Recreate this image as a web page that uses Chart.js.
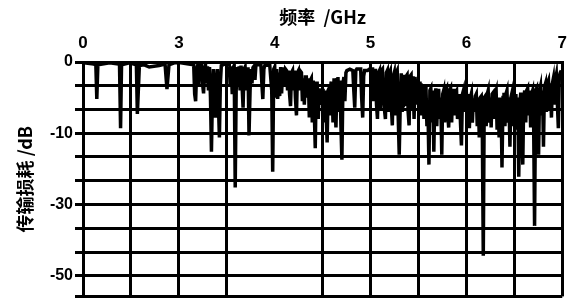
<!DOCTYPE html>
<html>
<head>
<meta charset="utf-8">
<script src="https://cdn.jsdelivr.net/npm/chart.js@4"></script>
<style>
    html, body { margin: 0; padding: 0; background: #fff; }
    #wrap { width: 575px; height: 308px; }
</style>
</head>
<body>
<div id="wrap"><canvas id="lossChart"></canvas></div>
<script>
// frequency (GHz) and transmission loss (dB), row by row
var freqGHz = [
    2.010, 2.113, 2.134, 2.144, 2.155, 2.278, 2.371, 2.381, 2.392, 2.402,
    2.485, 2.557, 2.567, 2.588, 2.639, 2.691, 2.794, 2.856, 2.876, 2.897, 2.959,

    3.021, 3.103, 3.155, 3.165, 3.175, 3.186, 3.196, 3.206, 3.216, 3.227,
    3.237, 3.247, 3.258, 3.268, 3.278, 3.289, 3.299, 3.309, 3.320, 3.330,
    3.340, 3.351, 3.361, 3.371, 3.382, 3.392, 3.402, 3.412, 3.423, 3.433,
    3.443, 3.474,

    3.526, 3.536, 3.546, 3.557, 3.567, 3.577, 3.588, 3.598, 3.608, 3.618,
    3.629, 3.639, 3.649, 3.660, 3.670, 3.680, 3.691, 3.701, 3.711, 3.722,
    3.732, 3.743, 3.753, 3.763, 3.773, 3.784, 3.794, 3.804, 3.856, 3.866,
    3.876, 3.887, 3.897, 3.948, 3.969, 3.979, 3.990,

    4.000, 4.010, 4.020, 4.031, 4.041, 4.052, 4.062, 4.072, 4.083, 4.093,
    4.103, 4.113, 4.124, 4.134, 4.144, 4.155, 4.165, 4.175, 4.186, 4.196,
    4.206, 4.216, 4.227, 4.237, 4.248, 4.258, 4.268, 4.279, 4.289, 4.299,
    4.309, 4.320, 4.330, 4.340, 4.351, 4.361, 4.371, 4.382, 4.392, 4.402,
    4.412, 4.423, 4.433, 4.443, 4.454, 4.464, 4.474, 4.485,

    4.505, 4.515, 4.526, 4.536, 4.547, 4.557, 4.567, 4.577, 4.588, 4.598,
    4.608, 4.619, 4.629, 4.639, 4.650, 4.660, 4.670, 4.681, 4.691, 4.701,
    4.712, 4.722, 4.732, 4.743, 4.753, 4.784, 4.815, 4.825, 4.835, 4.846,
    4.856, 4.897, 4.907, 4.918, 4.928, 4.938, 4.969, 4.990,

    5.021, 5.031, 5.041, 5.052, 5.062, 5.072, 5.083, 5.093, 5.103, 5.113,
    5.124, 5.134, 5.144, 5.155, 5.165, 5.175, 5.186, 5.196, 5.206, 5.216,
    5.227, 5.237, 5.247, 5.258, 5.268, 5.278, 5.289, 5.299, 5.309, 5.320,
    5.330, 5.340, 5.351, 5.361, 5.371, 5.381, 5.392, 5.402, 5.412, 5.423,
    5.433, 5.443, 5.454, 5.464, 5.474, 5.485, 5.495,

    5.516, 5.526, 5.536, 5.547, 5.557, 5.567, 5.578, 5.588, 5.598, 5.609,
    5.619, 5.629, 5.640, 5.650, 5.660, 5.670, 5.681, 5.691, 5.701, 5.711,
    5.722, 5.732, 5.743, 5.753, 5.763, 5.773, 5.784, 5.794, 5.804, 5.815,
    5.825, 5.835, 5.846, 5.856, 5.866, 5.876, 5.887, 5.897, 5.907, 5.918,
    5.928, 5.938, 5.948, 5.959, 5.969, 5.979, 5.990,

    6.000, 6.010, 6.021, 6.031, 6.041, 6.052, 6.062, 6.072, 6.082, 6.093,
    6.103, 6.113, 6.124, 6.134, 6.144, 6.155, 6.165, 6.176, 6.186, 6.196,
    6.206, 6.217, 6.227, 6.237, 6.248, 6.258, 6.268, 6.279, 6.289, 6.299,
    6.310, 6.320, 6.330, 6.341, 6.351, 6.361, 6.371, 6.382, 6.392, 6.402,
    6.412, 6.423, 6.433, 6.443, 6.454, 6.464, 6.474, 6.485, 6.495,

    6.505, 6.516, 6.526, 6.536, 6.546, 6.557, 6.567, 6.577, 6.588, 6.598,
    6.608, 6.619, 6.629, 6.639, 6.649, 6.660, 6.670, 6.680, 6.691, 6.701,
    6.711, 6.722, 6.732, 6.742, 6.753, 6.763, 6.773, 6.784, 6.794, 6.804,
    6.814, 6.825, 6.835, 6.845, 6.856, 6.866, 6.876, 6.887, 6.897, 6.907,
    6.918, 6.928, 6.938, 6.948, 6.959, 6.969, 6.979, 6.990
];
var lossDb = [
    -0.1, -0.3, -0.4, -5.2, -0.4, -0.1, -0.3, -0.4, -9.3, -0.4,
    -0.1, -0.4, -7.3, -0.5, -0.4, -0.7, -0.5, -0.3, -3.8, -0.4, -0.1,

    -0.1, -0.3, -0.4, -4.5, -5.5, -1.0, -0.5, -3.5, -0.6, -1.0,
    -0.4, -3.0, -4.4, -1.0, -0.4, -3.0, -0.6, -4.0, -0.7, -5.0,
    -12.6, -4.0, -1.0, -5.0, -7.8, -3.0, -1.0, -5.5, -10.6, -3.0,
    -0.5, -0.3,

    -0.4, -3.5, -0.6, -4.5, -0.8, -0.5, -17.6, -4.0, -0.7, -3.0,
    -0.6, -4.0, -0.5, -3.5, -6.4, -1.0, -0.7, -4.0, -1.0, -1.0,
    -10.3, -4.0, -1.0, -3.0, -0.8, -0.6, -2.5, -0.4, -0.4, -3.0,
    -5.2, -1.0, -0.5, -0.4, -4.0, -15.4, -1.0,

    -0.7, -5.0, -1.0, -5.2, -1.5, -4.8, -0.7, -4.4, -1.0, -1.0,
    -3.5, -1.0, -1.2, -4.0, -1.2, -4.5, -6.2, -1.5, -1.2, -4.0,
    -1.2, -5.0, -7.5, -1.5, -1.2, -4.0, -1.3, -1.5, -5.5, -2.3,
    -6.0, -2.1, -2.1, -5.0, -2.3, -7.8, -2.6, -2.3, -8.5, -2.6,
    -6.5, -12.1, -3.0, -3.0, -8.0, -3.7, -6.0, -4.0,

    -4.0, -8.5, -4.0, -7.0, -11.3, -4.0, -3.7, -7.5, -3.0, -3.0,
    -8.5, -2.3, -6.0, -9.2, -2.5, -2.1, -7.0, -2.6, -9.0, -13.7,
    -3.0, -2.1, -5.5, -1.5, -1.2, -1.0, -1.2, -4.0, -6.4, -1.2,
    -1.0, -1.0, -5.0, -7.8, -2.0, -1.2, -1.2, -1.0,

    -1.0, -5.5, -1.2, -1.2, -6.0, -8.0, -1.5, -1.2, -6.5, -1.2,
    -1.0, -5.0, -6.5, -8.0, -1.5, -1.2, -7.0, -1.5, -1.2, -6.0,
    -8.9, -2.0, -1.5, -7.5, -1.5, -1.2, -8.0, -13.0, -6.5, -1.6,
    -7.0, -1.8, -6.0, -5.8, -2.0, -1.8, -7.0, -8.9, -2.0, -1.8,
    -6.5, -2.0, -8.0, -2.1, -2.1, -6.0, -3.0,

    -3.0, -7.5, -3.4, -3.4, -8.0, -3.7, -3.7, -9.0, -6.0, -14.4,
    -4.0, -3.7, -8.5, -4.0, -12.6, -5.0, -3.7, -9.0, -4.0, -4.0,
    -8.0, -5.0, -13.0, -4.5, -4.0, -8.5, -4.0, -3.7, -7.0, -9.2,
    -4.0, -3.7, -8.5, -4.0, -4.0, -7.5, -4.2, -4.0, -8.0, -6.4,
    -4.5, -8.5, -11.7, -4.5, -4.0, -7.0, -4.2,

    -4.4, -8.0, -4.5, -9.3, -5.0, -4.4, -8.5, -5.1, -7.0, -4.8,
    -4.5, -9.0, -5.0, -10.6, -5.0, -4.8, -8.0, -27.2, -5.0, -4.8,
    -9.0, -4.5, -4.0, -8.5, -5.0, -9.2, -4.5, -4.3, -8.0, -4.5,
    -4.0, -9.5, -5.0, -10.6, -8.0, -5.0, -14.8, -5.0, -4.3, -9.0,
    -4.5, -4.0, -8.5, -5.0, -11.9, -5.0, -4.4, -9.0, -4.8,

    -8.0, -4.5, -9.5, -5.0, -16.1, -6.0, -4.3, -9.0, -14.4, -5.0,
    -4.0, -8.5, -4.0, -3.7, -7.5, -4.0, -9.2, -4.5, -4.0, -8.0,
    -23.0, -4.0, -3.7, -8.0, -13.0, -4.0, -3.4, -7.5, -4.0, -11.9,
    -3.5, -3.0, -7.0, -3.0, -2.6, -6.5, -3.0, -7.8, -3.0, -2.3,
    -6.0, -2.5, -1.8, -5.5, -9.3, -2.0, -1.5, -1.2
];

// axis ticks as printed on the figure
var xTickValues = [2, 3, 4, 5, 6, 7];
var xTickLabels = ['0', '3', '4', '5', '6', '7'];
var xGridValues = [2, 2.5, 3, 3.5, 4, 4.5, 5, 5.5, 6, 6.5, 7];
var xHiddenGrid = [4];
var yTickValues = [0, -3.33, -6.67, -10, -13.33, -16.67, -20, -23.33, -26.67, -30, -32.9];
var yTickLabels = ['0', '', '', '-10', '', '', '-30', '', '', '-50', ''];

var points = [];
for (var i = 0; i < freqGHz.length; i++) {
    points.push({x: freqGHz[i], y: lossDb[i]});
}

var ctx = document.getElementById('lossChart').getContext('2d');

var chart1 = new Chart(ctx, {
    type: 'line',
    data: {
        datasets: [{
            label: '传输损耗',
            data: points,
            borderColor: '#000',
            borderWidth: 3.5,
            pointRadius: 0,
            tension: 0,
            fill: false
        }]
    },
    options: {
        responsive: true,
        maintainAspectRatio: false,
        animation: false,
        layout: { padding: { left: 0, right: 6, top: 0, bottom: 4 } },
        plugins: {
            legend: { display: false },
            tooltip: { enabled: false }
        },
        scales: {
            x: {
                type: 'linear',
                position: 'top',
                min: 2,
                max: 7,
                afterFit: function(scale) { scale.height = 62; },
                afterBuildTicks: function(scale) {
                    scale.ticks = xGridValues.map(function(v) { return {value: v}; });
                },
                ticks: {
                    autoSkip: false,
                    maxRotation: 0,
                    padding: 8,
                    color: '#000',
                    font: { family: 'Liberation Sans', size: 17, weight: 'bold' },
                    callback: function(value) {
                        var k = xTickValues.indexOf(value);
                        return k >= 0 ? xTickLabels[k] : '';
                    }
                },
                grid: {
                    color: function(c) {
                        if (c.tick && xHiddenGrid.indexOf(c.tick.value) >= 0) return 'rgba(0,0,0,0)';
                        return '#000';
                    },
                    lineWidth: 3,
                    drawTicks: false
                },
                border: { color: '#000', width: 3 },
                title: {
                    display: true,
                    text: '频率  /GHz',
                    color: '#000',
                    padding: { top: 6, bottom: 0 },
                    font: { family: 'Noto Sans CJK SC', size: 18, weight: 'bold' }
                }
            },
            y: {
                type: 'linear',
                min: -32.9,
                max: 0,
                afterFit: function(scale) { scale.width = 83; },
                afterBuildTicks: function(scale) {
                    scale.ticks = yTickValues.map(function(v) { return {value: v}; });
                },
                ticks: {
                    autoSkip: false,
                    padding: 2,
                    color: '#000',
                    font: { family: 'Liberation Sans', size: 16, weight: 'bold' },
                    callback: function(value) {
                        var k = yTickValues.indexOf(value);
                        return k >= 0 ? yTickLabels[k] : '';
                    }
                },
                grid: {
                    color: '#000',
                    lineWidth: 3,
                    tickLength: 8
                },
                border: { color: '#000', width: 3 },
                title: {
                    display: true,
                    text: '传输损耗 /dB',
                    color: '#000',
                    padding: { top: 14, bottom: 0 },
                    font: { family: 'Noto Sans CJK SC', size: 18, weight: 'bold' }
                }
            }
        }
    }
});
</script>
</body>
</html>
